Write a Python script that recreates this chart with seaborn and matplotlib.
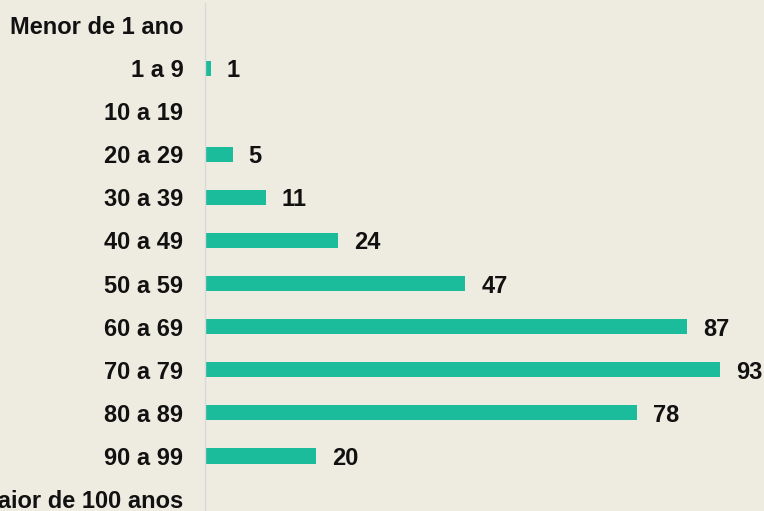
import matplotlib
matplotlib.use("Agg")
import matplotlib.pyplot as plt
import seaborn as sns
import pandas as pd

categories = ["Menor de 1 ano", "1 a 9", "10 a 19", "20 a 29", "30 a 39", "40 a 49",
              "50 a 59", "60 a 69", "70 a 79", "80 a 89", "90 a 99", "Maior de 100 anos"]
values = [0, 1, 0, 5, 11, 24, 47, 87, 93, 78, 20, 0]

bg = "#EEEBE0"
bar_color = "#1ABC9C"

sns.set_theme(style="white")
plt.rcParams['font.family'] = ['Liberation Sans', 'DejaVu Sans']

df = pd.DataFrame({"cat": categories, "val": values})

fig = plt.figure(figsize=(7.64, 5.11), dpi=100)
fig.patch.set_facecolor(bg)
ax = fig.add_axes([205 / 764, -0.0188, 1 - 205 / 764 - 5 / 764, 0.9933 + 0.0188])
ax.set_facecolor(bg)

sns.barplot(data=df, y="cat", x="val", orient="h", color=bar_color, width=0.35,
            saturation=1, linewidth=0, ax=ax)

ax.set_xlim(0, 100)
ax.set_xlabel("")
ax.set_ylabel("")
ax.set_xticks([])
for s in ["top", "right", "bottom"]:
    ax.spines[s].set_visible(False)
ax.spines["left"].set_color("#D9D9D9")
ax.spines["left"].set_linewidth(1)
ax.tick_params(axis="y", length=0, pad=15.5)
for lbl in ax.get_yticklabels():
    lbl.set_fontweight("bold")
    lbl.set_fontsize(17)
    lbl.set_color("#111111")

for i, v in enumerate(values):
    if v > 0:
        ax.annotate(str(v), xy=(v, i), xytext=(11.5, -1.8), textcoords="offset points",
                    va="center", ha="left", fontsize=17, fontweight="bold", color="#111111")

fig.savefig("out.png", dpi=100, facecolor=bg)
